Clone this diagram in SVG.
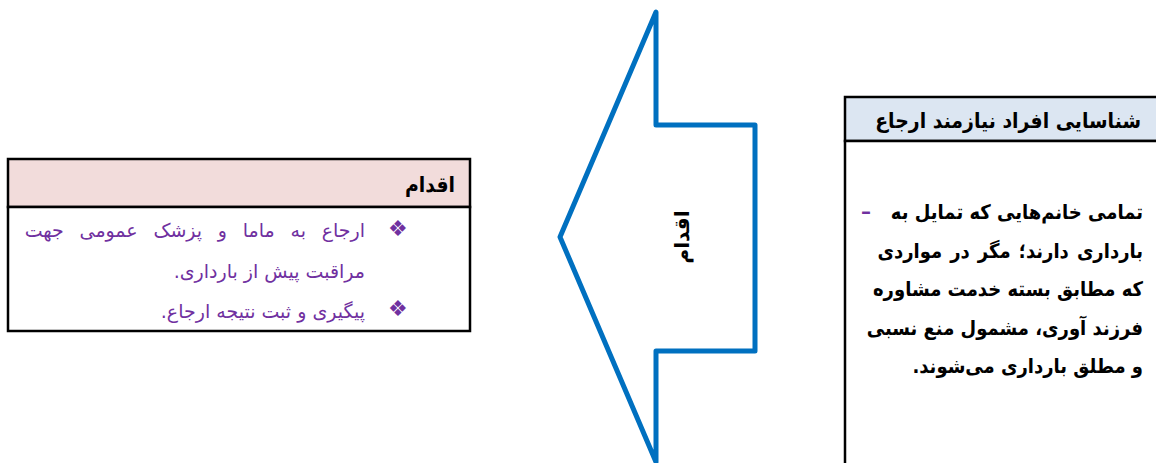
<svg xmlns="http://www.w3.org/2000/svg" width="1156" height="463" viewBox="0 0 1156 463">
<style>
.box{stroke:#000;stroke-width:2.5}
.ar{font-family:"DejaVu Sans","Noto Sans",sans-serif}
.hd{font-size:21px;font-weight:bold;fill:#000}
.bd{font-size:20px;font-weight:bold;fill:#000}
.pl{font-size:19px;fill:#7030A0}
.bul{font-family:"DejaVu Sans",sans-serif;font-size:22px;fill:#7030A0}
</style>
<rect width="1156" height="463" fill="#fff"/>
<g id="connectors">
<path d="M656,12 L656,125 L755,125 L755,351 L656,351 L656,462 L560,237 Z" fill="#fff" stroke="#0070C0" stroke-width="5" stroke-linejoin="round"/>
<text class="ar" transform="translate(682,237) rotate(-90)" text-anchor="middle" dominant-baseline="central" direction="rtl" font-size="20" font-weight="bold" fill="#000">اقدام</text>
</g>
<g id="node-right">
<rect class="box" x="845" y="97" width="320" height="44" fill="#DCE6F2"/>
<rect class="box" x="845" y="141" width="320" height="330" fill="#fff"/>
<text class="ar hd" transform="translate(1141,128) scale(0.9,1)" direction="rtl" text-anchor="start">شناسایی افراد نیازمند ارجاع</text>
<text class="ar bd" x="861" y="218" style="fill:#7030A0">–</text>
<text class="ar bd" transform="translate(1143,219) scale(0.9,1)" direction="rtl" text-anchor="start">تمامی خانم‌هایی که تمایل به</text>
<text class="ar bd" transform="translate(1143,258) scale(0.9,1)" direction="rtl" text-anchor="start" word-spacing="2">بارداری دارند؛ مگر در مواردی</text>
<text class="ar bd" transform="translate(1143,296) scale(0.9,1)" direction="rtl" text-anchor="start">که مطابق بسته خدمت مشاوره</text>
<text class="ar bd" transform="translate(1143,335) scale(0.9,1)" direction="rtl" text-anchor="start">فرزند آوری، مشمول منع نسبی</text>
<text class="ar bd" transform="translate(1143,373) scale(0.9,1)" direction="rtl" text-anchor="start">و مطلق بارداری می‌شوند.</text>
</g>
<g id="node-left">
<rect class="box" x="8" y="159" width="462" height="48" fill="#F2DCDB"/>
<rect class="box" x="8" y="207" width="462" height="124" fill="#fff"/>
<text class="ar hd" transform="translate(455,192) scale(0.9,1)" direction="rtl" text-anchor="start">اقدام</text>
<text class="bul" x="388" y="236">❖</text>
<text class="ar pl" x="365" y="237" direction="rtl" text-anchor="start" word-spacing="9.7">ارجاع به ماما و پزشک عمومی جهت</text>
<text class="ar pl" x="365" y="278" direction="rtl" text-anchor="start">مراقبت پیش از بارداری.</text>
<text class="bul" x="388" y="316">❖</text>
<text class="ar pl" x="365" y="318" direction="rtl" text-anchor="start">پیگیری و ثبت نتیجه ارجاع.</text>
</g>
</svg>
